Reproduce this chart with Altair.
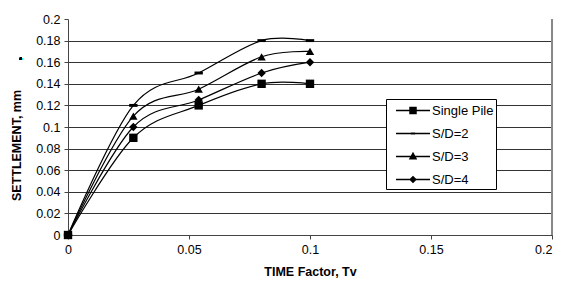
import altair as alt
import pandas as pd

tv = [0, 0.027, 0.054, 0.08, 0.1]
series_names = ["Single Pile", "S/D=2", "S/D=3", "S/D=4"]
single_pile = [0, 0.09, 0.12, 0.14, 0.14]
sd2 = [0, 0.12, 0.15, 0.18, 0.18]
sd3 = [0, 0.11, 0.135, 0.165, 0.17]
sd4 = [0, 0.10, 0.125, 0.15, 0.16]
y_ticks = [0, 0.02, 0.04, 0.06, 0.08, 0.1, 0.12, 0.14, 0.16, 0.18, 0.2]
x_ticks = [0, 0.05, 0.1, 0.15, 0.2]

rows = []
for name, vals in zip(series_names, [single_pile, sd2, sd3, sd4]):
    for x, y in zip(tv, vals):
        rows.append({"tv": x, "settlement": y, "series": name})
df = pd.DataFrame(rows)

FONT = "Liberation Sans"

marker_shapes = [
    "square",
    "M-1,-0.35H1V0.35H-1Z",
    "triangle-up",
    "diamond",
]
LINE = "M-2,-0.075H2V0.075H-2Z"
legend_shapes = [
    LINE + "M-0.44,-0.44H0.44V0.44H-0.44Z",
    LINE + "M-0.25,-0.12H0.25V0.12H-0.25Z",
    LINE + "M0,-0.55L0.5,0.35H-0.5Z",
    LINE + "M0,-0.45L0.45,0L0,0.45L-0.45,0Z",
]

x_enc = alt.X("tv:Q", scale=alt.Scale(domain=[0, 0.2], nice=False),
              axis=alt.Axis(values=x_ticks, format="~g", title="TIME Factor, Tv",
                            grid=False, domainColor="#444", tickColor="#444",
                            tickSize=4, labelPadding=4, titlePadding=10,
                            labelOverlap=False, labelBound=False, labelFlush=False,
                            labelAlign={"condition": {"test": "datum.value >= 0.2", "value": "right"},
                                        "value": "center"}))
y_enc = alt.Y("settlement:Q", scale=alt.Scale(domain=[0, 0.2], nice=False),
              axis=alt.Axis(values=y_ticks, format="~g", title="SETTLEMENT, mm",
                            grid=True, gridColor="#333",
                            gridOpacity={"condition": {"test": "datum.value >= 0.2", "value": 0}, "value": 1},
                            domainColor="#444", tickColor="#444", tickSize=4,
                            labelPadding=4, labelOverlap=False, labelFlush=False,
                            titleX=-45, titleY=126))

base = alt.Chart(df)

lines = base.mark_line(interpolate="cardinal", color="black", strokeWidth=1.2).encode(
    x=x_enc, y=y_enc, detail="series:N")

points = base.mark_point(filled=True, color="black", opacity=1, size=70).encode(
    x=x_enc, y=y_enc,
    shape=alt.Shape("series:N", scale=alt.Scale(domain=series_names, range=marker_shapes), legend=None))

legend_layer = base.transform_filter("false").mark_point(
    filled=True, color="black", opacity=1).encode(
    x=x_enc, y=y_enc,
    shape=alt.Shape("series:N", scale=alt.Scale(domain=series_names, range=legend_shapes),
                    legend=alt.Legend(title=None, orient="none", legendX=318, legendY=80,
                                      symbolSize=289, symbolFillColor="black", symbolOpacity=1,
                                      labelFontSize=13, labelFont=FONT, labelOffset=9.5,
                                      labelColor="black",
                                      labelExpr="datum.label + '     '",
                                      strokeColor="black", fillColor="white",
                                      padding=2, rowPadding=6, symbolOffset=15.5)))

border = alt.Chart(df).mark_rule(color="#888", strokeWidth=1).encode(x=alt.datum(0.2))

dot = alt.Chart(df).mark_text(text="·", fontSize=14, fontWeight="bold", color="black").encode(
    x=alt.value(-47), y=alt.value(41))

chart = alt.layer(lines, border, points, legend_layer, dot).resolve_scale(shape="independent").properties(
    width=484, height=216,
    autosize=alt.AutoSizeParams(type="none"),
    padding={"left": 60, "top": 11, "right": 1, "bottom": 44}
).configure_view(stroke=None).configure_axis(
    labelFont=FONT, titleFont=FONT, labelFontSize=12.5, titleFontSize=12.5,
    titleFontWeight="bold", labelColor="black", titleColor="black"
)

chart.save("out.html", embed_options={"renderer": "svg", "actions": False})
